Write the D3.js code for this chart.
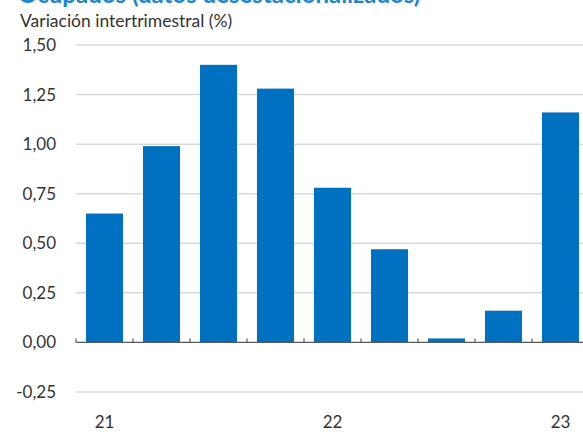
<!DOCTYPE html>
<html>
<head>
<meta charset="utf-8">
<script src="https://cdn.jsdelivr.net/npm/d3@7"></script>
<style>
  body { margin: 0; background: #fff; }
  svg { display: block; font-family: Lato, "Open Sans", sans-serif; }
</style>
</head>
<body>
<svg id="chart" width="583" height="432"></svg>
<script>
const quarters = ['2021T1', '2021T2', '2021T3', '2021T4', '2022T1', '2022T2', '2022T3', '2022T4', '2023T1'];
const values = [0.65, 0.99, 1.40, 1.28, 0.78, 0.47, 0.02, 0.16, 1.16];
const yTicks = [-0.25, 0, 0.25, 0.5, 0.75, 1, 1.25, 1.5];
const yearLabels = { '2021T1': '21', '2022T1': '22', '2023T1': '23' };

const svg = d3.select('#chart');
const fmt = (d) => d3.format('.2f')(d).replace('.', ',').replace('\u2212', '-');

const x = d3.scaleBand()
  .domain(quarters)
  .range([76, 589])
  .paddingInner(0.35)
  .paddingOuter(0.175);

const y = d3.scaleLinear().domain([-0.25, 1.5]).range([392, 45]);

// title, cut by the top edge as in the source picture
svg.append('text')
  .attr('x', 18).attr('y', 3)
  .attr('fill', '#1a86d6')
  .attr('font-size', 24)
  .attr('font-weight', 'bold')
  .text('Ocupados (datos desestacionalizados)');

svg.append('text')
  .attr('x', 20).attr('y', 27)
  .attr('fill', '#333')
  .attr('font-size', 17.5)
  .text('Variación intertrimestral (%)');

// grid
svg.append('g')
  .selectAll('line')
  .data(yTicks.filter((d) => d !== 0))
  .join('line')
  .attr('x1', 76).attr('x2', 583)
  .attr('y1', (d) => y(d)).attr('y2', (d) => y(d))
  .attr('stroke', '#d9d9d9')
  .attr('stroke-width', 1.5);

svg.append('g')
  .selectAll('text')
  .data(yTicks)
  .join('text')
  .attr('x', 56)
  .attr('y', (d) => y(d))
  .attr('dy', '0.35em')
  .attr('text-anchor', 'end')
  .attr('fill', '#333')
  .attr('font-size', 17)
  .text(fmt);

// bars
svg.append('g')
  .selectAll('rect')
  .data(values)
  .join('rect')
  .attr('x', (d, i) => x(quarters[i]))
  .attr('width', x.bandwidth())
  .attr('y', (d) => y(Math.max(0, d)))
  .attr('height', (d) => Math.abs(y(d) - y(0)))
  .attr('fill', '#0070c0');

// zero axis, small upward ticks at band edges
const axis = svg.append('g').attr('stroke', '#595959').attr('stroke-width', 1.2);
axis.append('line')
  .attr('x1', 76).attr('x2', 583)
  .attr('y1', y(0)).attr('y2', y(0));
axis.selectAll('.tk')
  .data(d3.range(quarters.length + 1))
  .join('line')
  .attr('class', 'tk')
  .attr('x1', (i) => x.range()[0] + i * x.step())
  .attr('x2', (i) => x.range()[0] + i * x.step())
  .attr('y1', y(0)).attr('y2', y(0) - 4);

svg.append('g')
  .selectAll('text')
  .data(quarters.filter((q) => yearLabels[q]))
  .join('text')
  .attr('x', (q) => x(q) + x.bandwidth() / 2)
  .attr('y', 428)
  .attr('text-anchor', 'middle')
  .attr('fill', '#333')
  .attr('font-size', 17)
  .text((q) => yearLabels[q]);
</script>
</body>
</html>
